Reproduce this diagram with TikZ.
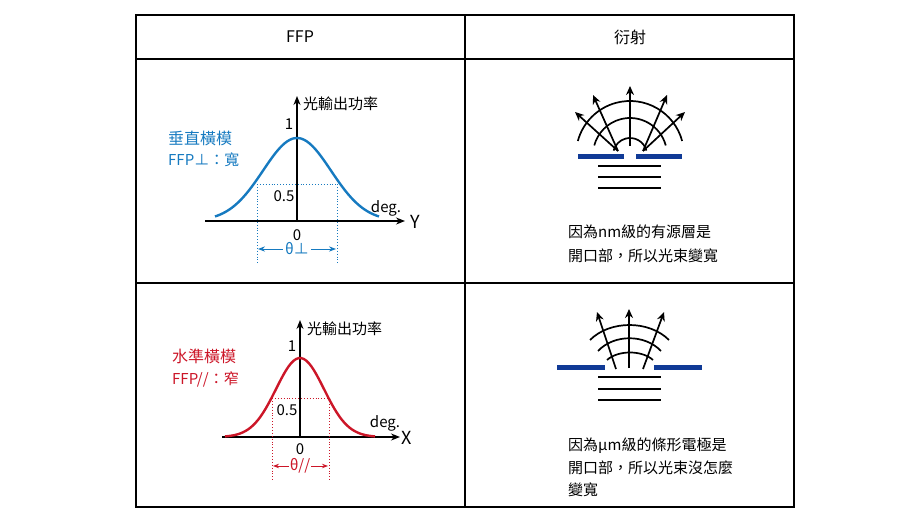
\documentclass[tikz,border=0pt]{standalone}
\usepackage{fontspec}
\setmainfont{Noto Sans CJK TC}
\usetikzlibrary{arrows.meta}
\definecolor{perpblue}{RGB}{22,122,192}
\definecolor{parared}{RGB}{204,22,40}
\definecolor{barblue}{RGB}{16,58,150}
\tikzset{
  lbl/.style={inner sep=0pt, font=\fontsize{15}{17}\selectfont},
  axis/.style={line width=1.4pt, -{Stealth[length=9pt,width=7pt]}},
  guide/.style={dotted, line width=0.9pt},
  ray/.style={line width=1.7pt, -{Stealth[length=9pt,width=8pt]}},
  bar/.style={barblue, line width=5pt},
  layer/.style={line width=1.7pt},
  wave/.style={line width=1.7pt},
}
\begin{document}
\begin{tikzpicture}[x=1pt,y=-1pt]
    \useasboundingbox (0,0) rectangle (922,519);
    % table
    \draw [line width=1.2pt] (136,15) rectangle (794,507);
    \draw [line width=1.2pt] (465,15) -- (465,507);
    \draw [line width=1.2pt] (136,59) -- (794,59);
    \draw [line width=1.2pt] (136,283) -- (794,283);
    \node [lbl, font=\fontsize{16}{18}\selectfont] (hffp) at (300,37) {FFP};
    \node [lbl, font=\fontsize{16}{18}\selectfont] (hdif) at (630,37) {衍射};
    % perpendicular mode
    \coordinate (o1) at (297,221);
    \coordinate (y1) at (297,96);
    \coordinate (x1a) at (205,221);
    \coordinate (x1b) at (405,221);
    \draw [axis] (o1) -- (y1);
    \draw [axis] (x1a) -- (x1b);
    \draw [perpblue, line width=2.4pt] plot[domain=-82:82,samples=60] ({297+\x},{221-83*exp(-(\x/34)^2/2)});
    \draw [perpblue, guide] (257,184) -- (337,184);
    \draw [perpblue, guide] (257,184) -- (257,265);
    \draw [perpblue, guide] (337,184) -- (337,265);
    \coordinate (t1a) at (258,249);
    \coordinate (t1b) at (336,249);
    \node [lbl, perpblue, fill=white, inner xsep=2pt] (th1) at (297,249) {θ⊥};
    \draw [perpblue, line width=1pt, -{Stealth[length=7pt]}] (th1) -- (t1a);
    \draw [perpblue, line width=1pt, -{Stealth[length=7pt]}] (th1) -- (t1b);
    \node [lbl, anchor=west] (pw1) at (303,104) {光輸出功率};
    \node [lbl] (one1) at (289,124) {1};
    \node [lbl] (half1) at (284,196) {0.5};
    \node [lbl] (deg1) at (386,208) {deg.};
    \node [lbl, font=\fontsize{18}{20}\selectfont] (ax1) at (415,222) {Y};
    \node [lbl] (zero1) at (297,235) {0};
    \node [lbl, perpblue, anchor=west, font=\fontsize{16}{18}\selectfont] (m1a) at (168,138) {垂直橫模};
    \node [lbl, perpblue, anchor=west] (m1b) at (168,160) {FFP⊥：寬};
    % parallel mode
    \coordinate (o2) at (300,437);
    \coordinate (y2) at (300,320);
    \coordinate (x2a) at (222,437);
    \coordinate (x2b) at (400,437);
    \draw [axis] (o2) -- (y2);
    \draw [axis] (x2a) -- (x2b);
    \draw [parared, line width=2.4pt] plot[domain=-75:75,samples=60] ({300+\x},{437-79*exp(-(\x/24)^2/2)});
    \draw [parared, guide] (272,398) -- (329,398);
    \draw [parared, guide] (272,398) -- (272,481);
    \draw [parared, guide] (329,398) -- (329,481);
    \coordinate (t2a) at (273,466);
    \coordinate (t2b) at (328,466);
    \node [lbl, parared, fill=white, inner xsep=1pt] (th2) at (300,466) {θ//};
    \draw [parared, line width=1pt, -{Stealth[length=6pt]}] (th2) -- (t2a);
    \draw [parared, line width=1pt, -{Stealth[length=6pt]}] (th2) -- (t2b);
    \node [lbl, anchor=west] (pw2) at (307,329) {光輸出功率};
    \node [lbl] (one2) at (292,346) {1};
    \node [lbl] (half2) at (287,410) {0.5};
    \node [lbl] (deg2) at (385,423) {deg.};
    \node [lbl, font=\fontsize{18}{20}\selectfont] (ax2) at (407,438) {X};
    \node [lbl] (zero2) at (300,449) {0};
    \node [lbl, parared, anchor=west, font=\fontsize{16}{18}\selectfont] (m2a) at (172,356) {水準橫模};
    \node [lbl, parared, anchor=west] (m2b) at (172,379) {FFP//：窄};
    % wide diffraction
    \draw [bar] (578,156) -- (624,156);
    \draw [bar] (636,156) -- (682,156);
    \foreach \y in {166,177,188}
      \draw [layer] (598,\y) -- (661,\y);
    \foreach \r in {17,37,54}
      \draw [wave] ([shift={(-15:\r)}]630,155) arc[start angle=-15, end angle=-165, radius=\r];
    \coordinate (s1l) at (618,151);
    \coordinate (s1c) at (630,146);
    \coordinate (s1r) at (643,151);
    \coordinate (e1a) at (575,112);
    \coordinate (e1b) at (593,95);
    \coordinate (e1c) at (630,86);
    \coordinate (e1d) at (667,95);
    \coordinate (e1e) at (685,112);
    \draw [ray] (s1l) -- (e1a);
    \draw [ray] (s1l) -- (e1b);
    \draw [ray] (s1c) -- (e1c);
    \draw [ray] (s1r) -- (e1d);
    \draw [ray] (s1r) -- (e1e);
    \node [lbl, anchor=west] (txt1a) at (568,232) {因為nm級的有源層是};
    \node [lbl, anchor=west] (txt1b) at (568,256) {開口部，所以光束變寬};
    % narrow diffraction
    \draw [bar] (557,367) -- (605,367);
    \draw [bar] (654,367) -- (702,367);
    \foreach \y in {377,389,400}
      \draw [layer] (598,\y) -- (661,\y);
    \draw [wave] (590,340) .. controls (610,320) and (649,320) .. (669,340);
    \draw [wave] (598,351) .. controls (614,334) and (645,334) .. (661,351);
    \draw [wave] (607,360) .. controls (618,350) and (642,350) .. (653,360);
    \coordinate (s2l) at (616,369);
    \coordinate (s2c) at (629,368);
    \coordinate (s2r) at (643,369);
    \coordinate (e2a) at (597,312);
    \coordinate (e2b) at (629,309);
    \coordinate (e2c) at (664,312);
    \draw [ray] (s2l) -- (e2a);
    \draw [ray] (s2c) -- (e2b);
    \draw [ray] (s2r) -- (e2c);
    \node [lbl, anchor=west] (txt2a) at (568,446) {因為μm級的條形電極是};
    \node [lbl, anchor=west] (txt2b) at (568,468) {開口部，所以光束沒怎麼};
    \node [lbl, anchor=west] (txt2c) at (568,490) {變寬};
\end{tikzpicture}
\end{document}
